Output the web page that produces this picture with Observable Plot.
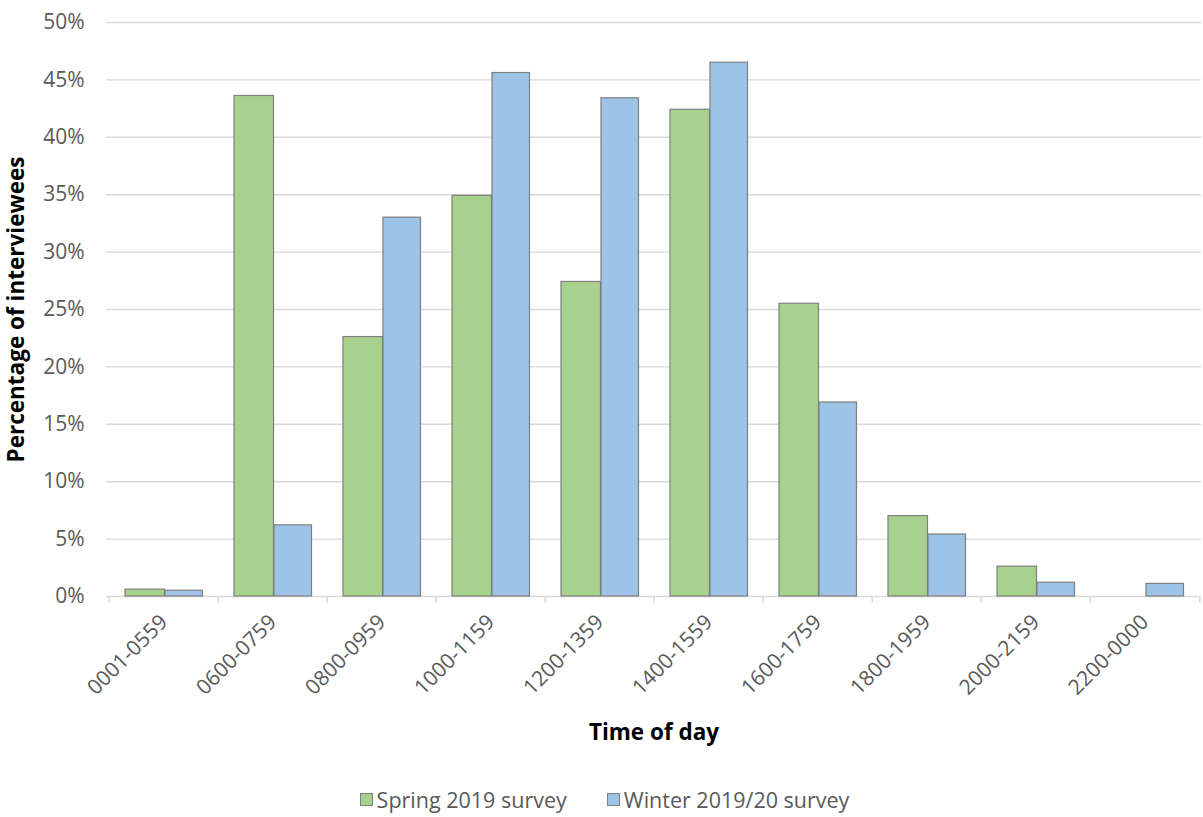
<!DOCTYPE html>
<html>
<head>
<meta charset="utf-8">
<script src="https://cdn.jsdelivr.net/npm/d3@7"></script>
<script src="https://cdn.jsdelivr.net/npm/@observablehq/plot@0.6"></script>
<style>
  body { margin: 0; background: #fff; font-family: "Open Sans", sans-serif; }
  #chart { width: 1203px; }
  .legend { display: flex; justify-content: center; gap: 40px; margin-top: 25px; padding-left: 6px;
            font-size: 21.5px; color: #595959; }
  .legend .item { display: flex; align-items: center; gap: 4px; }
  .legend .sw { width: 13px; height: 13px; box-sizing: border-box; border: 1px solid #7f7f7f; }
</style>
</head>
<body>
<div id="chart"></div>
<script>
// Time-of-day bands
const timeBands = ["0001-0559", "0600-0759", "0800-0959", "1000-1159", "1200-1359",
                   "1400-1559", "1600-1759", "1800-1959", "2000-2159", "2200-0000"];
// Share of interviewees (%) per band, by survey
const spring2019 = [0.6, 43.6, 22.6, 34.9, 27.4, 42.4, 25.5, 7.0, 2.6, 0];
const winter2019 = [0.5, 6.2, 33.0, 45.6, 43.4, 46.5, 16.9, 5.4, 1.2, 1.1];
const seriesNames = ["Spring 2019 survey", "Winter 2019/20 survey"];
const seriesColors = ["#a9d18e", "#9dc3e6"];
const yTicks = [0, 5, 10, 15, 20, 25, 30, 35, 40, 45, 50];

const rows = [
  ...timeBands.map((t, i) => ({band: t, series: seriesNames[0], value: spring2019[i]})),
  ...timeBands.map((t, i) => ({band: t, series: seriesNames[1], value: winter2019[i]}))
];

const W = 1203, H = 760;
const mL = 106, mR = 2, mT = 22, mB = 164;
const step = (W - mL - mR) / timeBands.length;
const axisColor = "#d9d9d9";
const textColor = "#595959";

const chart = Plot.plot({
  width: W,
  height: H,
  marginLeft: mL,
  marginRight: mR,
  marginTop: mT,
  marginBottom: mB,
  style: {fontFamily: "'Open Sans', sans-serif", background: "#fff"},
  x: {domain: timeBands, padding: 0},
  y: {domain: [0, 50]},
  color: {domain: seriesNames, range: seriesColors},
  marks: [
    Plot.gridY(yTicks, {stroke: axisColor, strokeOpacity: 1, strokeWidth: 1.4}),
    Plot.axisY(yTicks, {
      tickSize: 0, tickPadding: 22, fontSize: 21, fill: textColor,
      tickFormat: d => d + "%",
      label: "Percentage of interviewees", labelAnchor: "center", labelArrow: "none",
      labelOffset: 98
    }),
    // boundary ticks below the baseline
    Plot.ruleX(timeBands, {x: d => d, dx: -step / 2, y1: 0, y2: -0.6, stroke: axisColor, strokeWidth: 1.4}),
    Plot.ruleX(timeBands.slice(-1), {x: d => d, dx: step / 2, y1: 0, y2: -0.6, stroke: axisColor, strokeWidth: 1.4}),
    Plot.axisX({
      tickSize: 0, tickPadding: 22, tickRotate: -45, fontSize: 21, fill: textColor,
      label: "Time of day", labelAnchor: "center", labelArrow: "none", labelOffset: 143
    }),
    Plot.barY(rows.filter(d => d.series === seriesNames[0]), {
      x: "band", y: "value", fill: "series", stroke: "#7f7f7f", strokeWidth: 1.2,
      insetLeft: 16, insetRight: step - 56
    }),
    Plot.barY(rows.filter(d => d.series === seriesNames[1]), {
      x: "band", y: "value", fill: "series", stroke: "#7f7f7f", strokeWidth: 1.2,
      insetLeft: 56, insetRight: step - 94
    })
  ]
});

// axis titles: bold black
chart.querySelectorAll("[aria-label='y-axis label'], [aria-label='x-axis label']").forEach(g => {
  g.setAttribute("font-size", 22.5);
  g.setAttribute("fill", "#000");
  g.setAttribute("font-weight", "bold");
  g.querySelectorAll("text").forEach(t => {
    t.setAttribute("font-size", 22.5);
    t.setAttribute("font-weight", "bold");
    t.setAttribute("fill", "#000");
  });
});

const root = document.getElementById("chart");
root.appendChild(chart);

const legend = document.createElement("div");
legend.className = "legend";
seriesNames.forEach((name, i) => {
  const item = document.createElement("div");
  item.className = "item";
  const sw = document.createElement("span");
  sw.className = "sw";
  sw.style.background = seriesColors[i];
  const label = document.createElement("span");
  label.textContent = name;
  item.append(sw, label);
  legend.appendChild(item);
});
root.appendChild(legend);
</script>
</body>
</html>
